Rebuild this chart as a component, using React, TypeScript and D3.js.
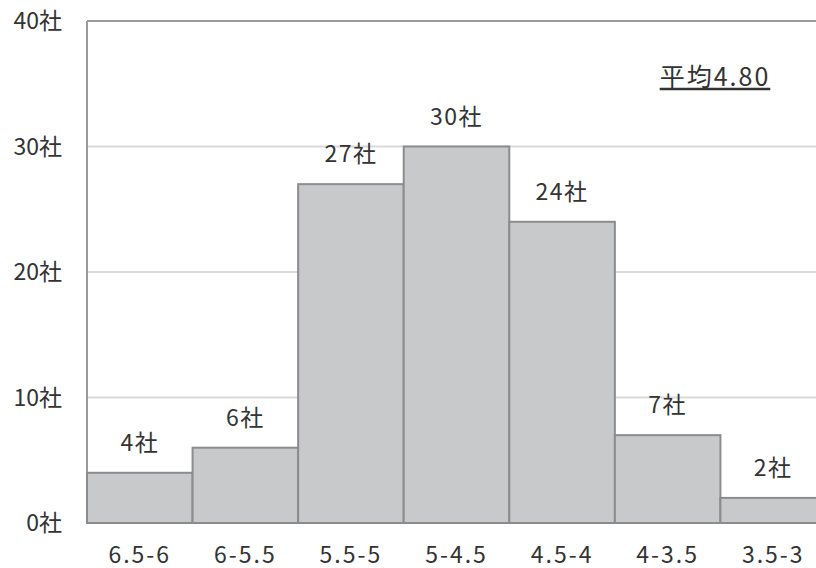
import React from "react";
import * as d3 from "d3";

const categories = ["6.5-6", "6-5.5", "5.5-5", "5-4.5", "4.5-4", "4-3.5", "3.5-3"];
const counts = [4, 6, 27, 30, 24, 7, 2];
const yTicks = [0, 10, 20, 30, 40];
const unit = "社";
const averageLabel = "平均4.80";

const W = 816;
const H = 568;
const margin = { left: 87, top: 21, bottom: 45 };
const plotRight = 826; // the plot frame runs slightly past the canvas edge
const FONT = "'Noto Sans CJK JP', 'Noto Sans', sans-serif";

export default function App() {
  const x = d3.scaleBand<string>().domain(categories).range([margin.left, plotRight]).padding(0);
  const y = d3.scaleLinear().domain([0, 40]).range([H - margin.bottom, margin.top]);
  const y0 = y(0);

  return (
    <svg
      width={W}
      height={H}
      style={{ position: "absolute", left: 0, top: 0, background: "#fff" }}
      fontFamily={FONT}
    >
      {/* gridlines */}
      {yTicks.map((t) => (
        <line
          key={"g" + t}
          x1={margin.left}
          x2={plotRight}
          y1={y(t)}
          y2={y(t)}
          stroke={t === 40 ? "#9a9a9a" : "#d9d9d9"}
          strokeWidth={2}
        />
      ))}
      {/* left frame */}
      <line x1={margin.left} x2={margin.left} y1={y(40)} y2={y0} stroke="#9a9a9a" strokeWidth={2} />

      {/* bars */}
      {categories.map((c, i) => (
        <rect
          key={c}
          x={x(c)!}
          y={y(counts[i])}
          width={x.bandwidth()}
          height={y0 - y(counts[i])}
          fill="#c8c9cb"
          stroke="#8c8c8c"
          strokeWidth={2}
        />
      ))}

      {/* value labels */}
      {categories.map((c, i) => (
        <text
          key={"v" + c}
          x={x(c)! + x.bandwidth() / 2}
          y={y(counts[i]) - 30}
          dy="0.35em"
          textAnchor="middle"
          fontSize={23}
          fill="#333"
          letterSpacing="1.5"
        >
          {counts[i] + unit}
        </text>
      ))}

      {/* y tick labels */}
      {yTicks.map((t) => (
        <text
          key={"y" + t}
          x={62}
          y={y(t)}
          dy="0.35em"
          textAnchor="end"
          fontSize={23}
          fill="#333"
        >
          {t + unit}
        </text>
      ))}

      {/* x tick labels */}
      {categories.map((c) => (
        <text
          key={"x" + c}
          x={x(c)! + x.bandwidth() / 2}
          y={y0 + 32}
          dy="0.35em"
          textAnchor="middle"
          fontSize={23}
          fill="#333"
          letterSpacing="2"
        >
          {c}
        </text>
      ))}

      {/* average annotation */}
      <text
        x={715}
        y={77}
        dy="0.35em"
        textAnchor="middle"
        fontSize={25}
        fill="#333"
        letterSpacing="2"
        textDecoration="underline"
      >
        {averageLabel}
      </text>
    </svg>
  );
}
